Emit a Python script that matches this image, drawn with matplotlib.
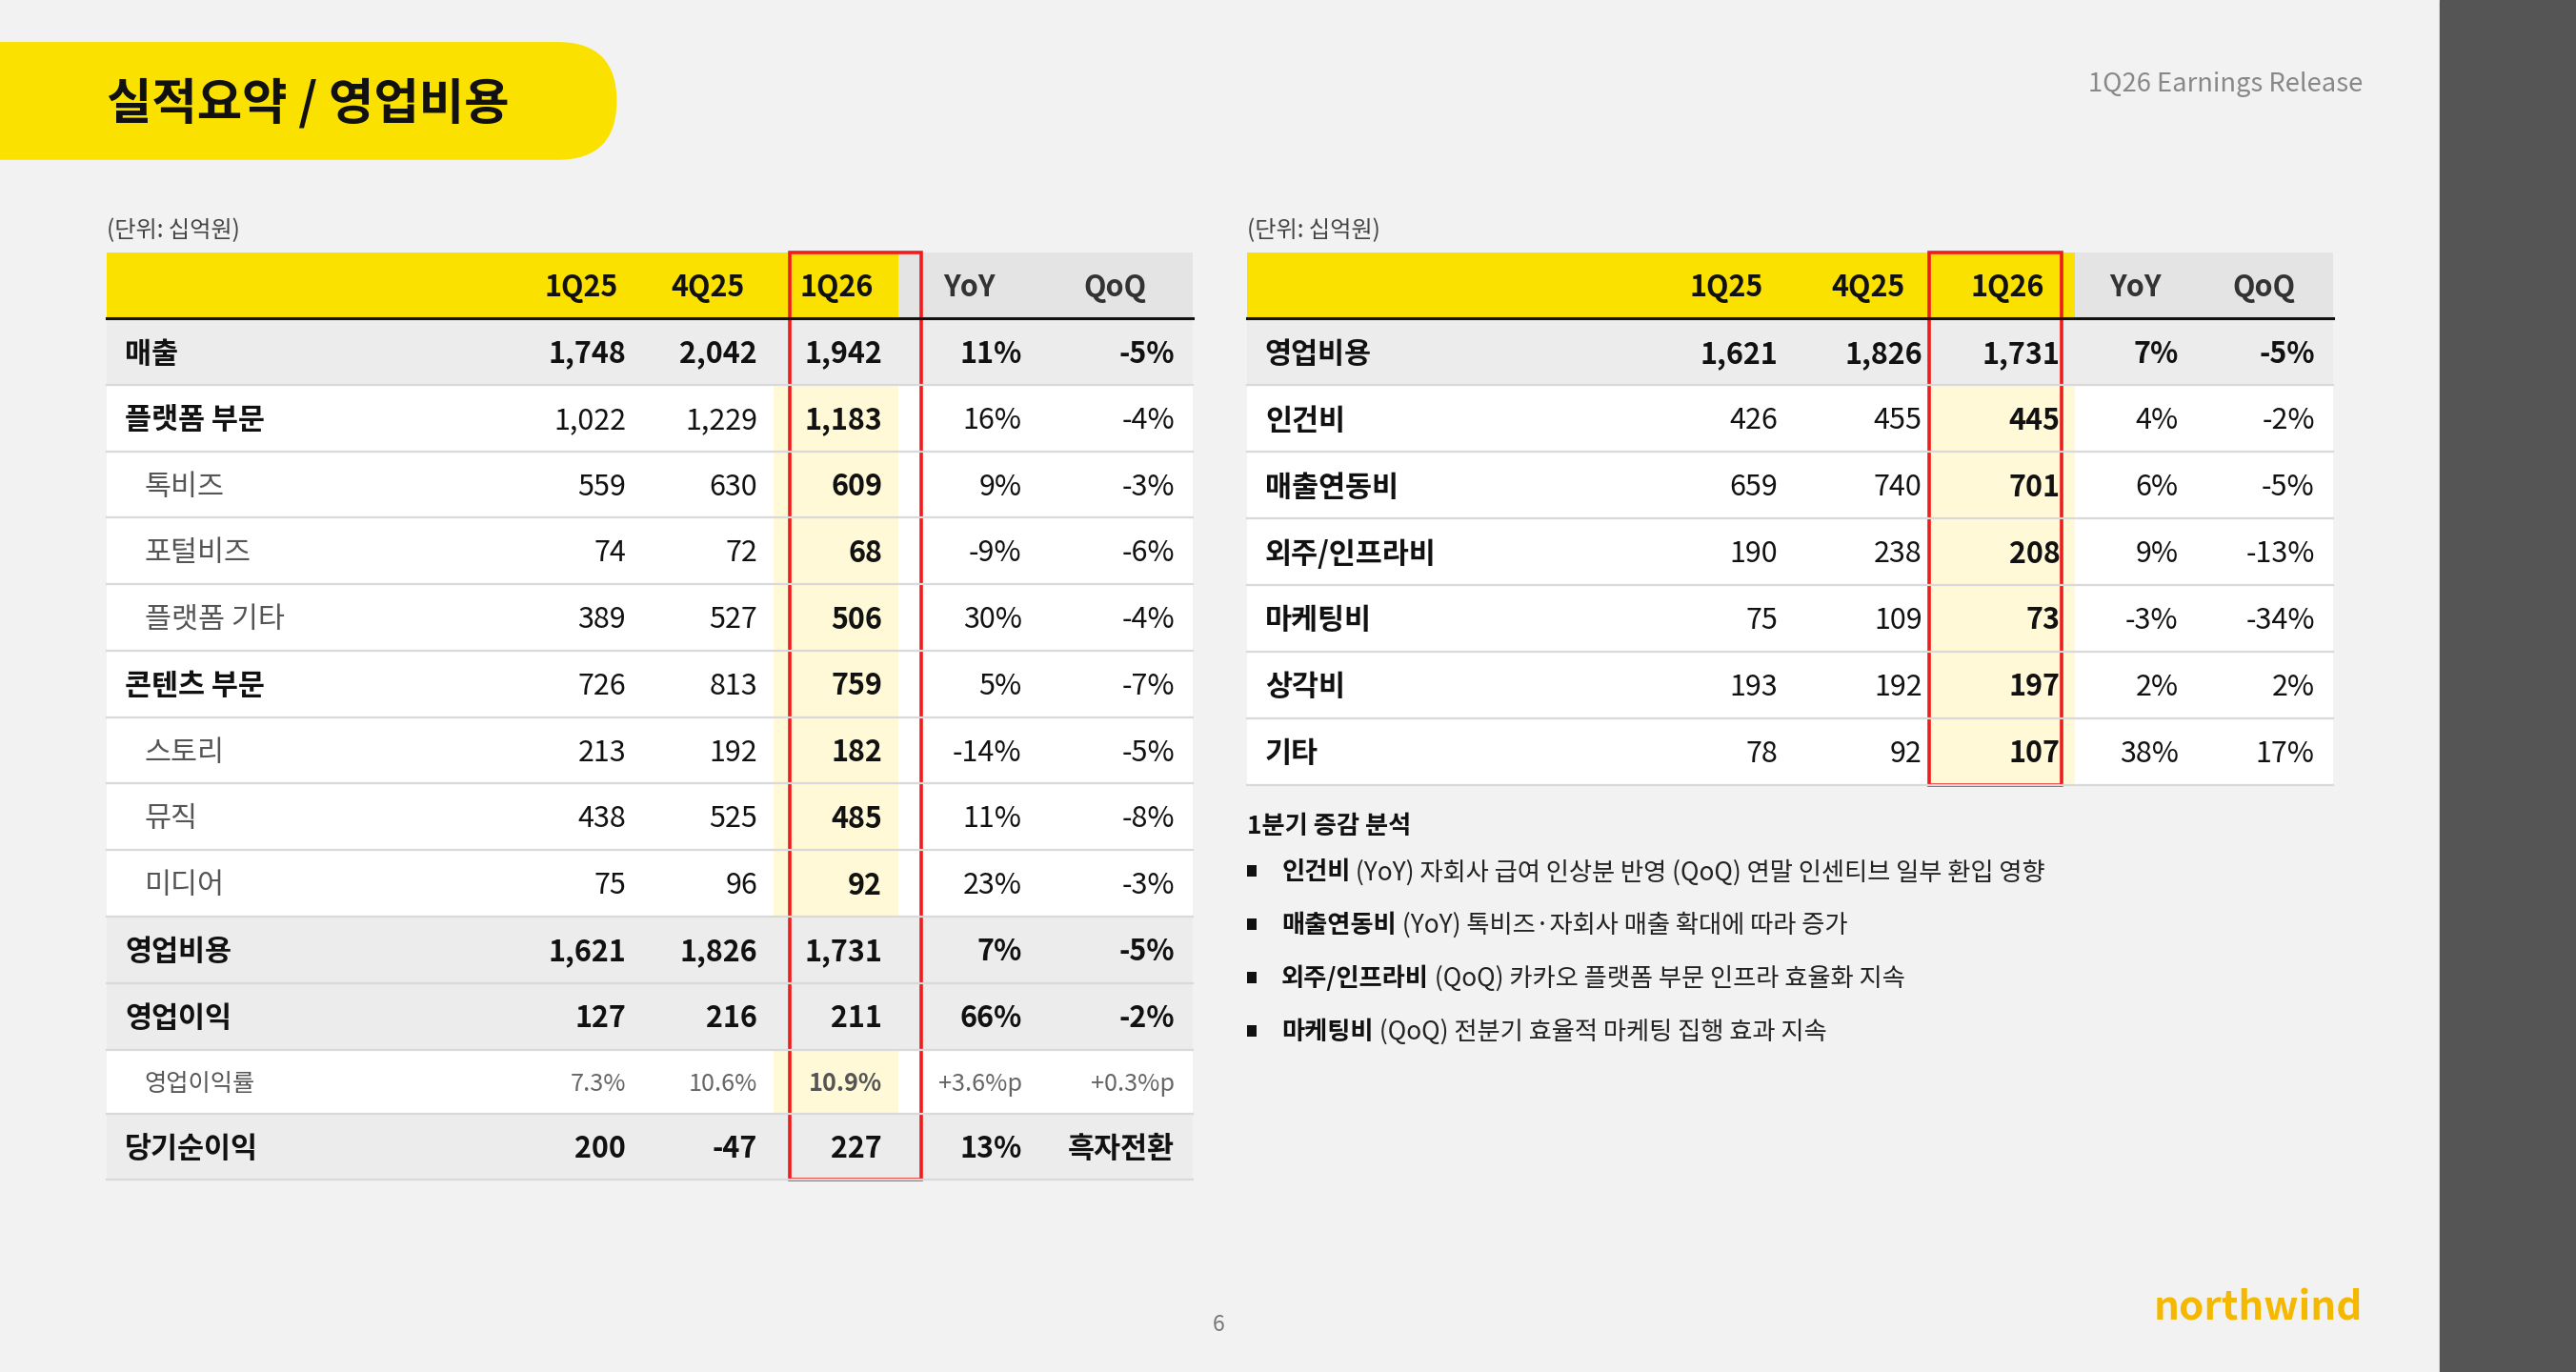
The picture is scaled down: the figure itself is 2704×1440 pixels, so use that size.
import matplotlib.pyplot as plt
from matplotlib.patches import Rectangle, FancyBboxPatch

plt.rcParams['font.family'] = ['Noto Sans CJK KR', 'DejaVu Sans']

# ---- data ----
cols = ["1Q25", "4Q25", "1Q26", "YoY", "QoQ"]

left_labels = ["매출", "플랫폼 부문", "톡비즈", "포털비즈", "플랫폼 기타", "콘텐츠 부문",
               "스토리", "뮤직", "미디어", "영업비용", "영업이익", "영업이익률", "당기순이익"]
left_1q25 = ["1,748", "1,022", "559", "74", "389", "726", "213", "438", "75", "1,621", "127", "7.3%", "200"]
left_4q25 = ["2,042", "1,229", "630", "72", "527", "813", "192", "525", "96", "1,826", "216", "10.6%", "-47"]
left_1q26 = ["1,942", "1,183", "609", "68", "506", "759", "182", "485", "92", "1,731", "211", "10.9%", "227"]
left_yoy = ["11%", "16%", "9%", "-9%", "30%", "5%", "-14%", "11%", "23%", "7%", "66%", "+3.6%p", "13%"]
left_qoq = ["-5%", "-4%", "-3%", "-6%", "-4%", "-7%", "-5%", "-8%", "-3%", "-5%", "-2%", "+0.3%p", "흑자전환"]
# row style: 'total' (gray, all bold), 'seg' (bold label), 'sub' (indented), 'ratio'
left_kind = ["total", "seg", "sub", "sub", "sub", "seg", "sub", "sub", "sub", "total", "total", "ratio", "total"]

right_labels = ["영업비용", "인건비", "매출연동비", "외주/인프라비", "마케팅비", "상각비", "기타"]
right_1q25 = ["1,621", "426", "659", "190", "75", "193", "78"]
right_4q25 = ["1,826", "455", "740", "238", "109", "192", "92"]
right_1q26 = ["1,731", "445", "701", "208", "73", "197", "107"]
right_yoy = ["7%", "4%", "6%", "9%", "-3%", "2%", "38%"]
right_qoq = ["-5%", "-2%", "-5%", "-13%", "-34%", "2%", "17%"]
right_kind = ["total", "seg", "seg", "seg", "seg", "seg", "seg"]

notes = [("인건비", " (YoY) 자회사 급여 인상분 반영 (QoQ) 연말 인센티브 일부 환입 영향"),
         ("매출연동비", " (YoY) 톡비즈·자회사 매출 확대에 따라 증가"),
         ("외주/인프라비", " (QoQ) 카카오 플랫폼 부문 인프라 효율화 지속"),
         ("마케팅비", " (QoQ) 전분기 효율적 마케팅 집행 효과 지속")]

YEL = "#fae100"
LYEL = "#fff9d8"
GRAY_ROW = "#ececec"
HDR_GRAY = "#e4e4e4"
RED = "#ee1c1c"
S = 1.2416 * 1.22  # display px -> pt
DY = 1.5  # CJK font sits a bit high with va=center

fig = plt.figure(figsize=(27.04, 14.4), dpi=100)
ax = fig.add_axes([0, 0, 1, 1])
ax.set_xlim(0, 1568)
ax.set_ylim(836, 0)
ax.axis("off")
fig.patch.set_facecolor("#f2f2f2")

ax.add_patch(Rectangle((1485, 0), 83, 836, color="#555555"))
ax.add_patch(FancyBboxPatch((-40, 26), 415, 71, boxstyle="round,pad=0,rounding_size=35.5",
                            color=YEL, mutation_aspect=1))
ax.text(65, 62 + DY, "실적요약 / 영업비용", fontsize=24.5 * S, fontweight="bold", va="center", color="#111")
ax.text(1438, 50 + DY, "1Q26 Earnings Release", fontsize=13 * S, ha="right", va="center", color="#888")
ax.text(742, 806 + DY, "6", fontsize=11 * S, ha="center", va="center", color="#777")
ax.text(1438, 796 + DY, "northwind", fontsize=20 * S, ha="right", va="center", fontweight="bold", color="#f5b800")


def draw_table(x0, x1, yel_end, col_r, col_c, hl, red, labels, values, kinds, heights):
    ax.text(x0, 139 + DY, "(단위: 십억원)", fontsize=11.5 * S, va="center", color="#444")
    ax.add_patch(Rectangle((x0, 154), yel_end - x0, 40, color=YEL, lw=0))
    ax.add_patch(Rectangle((yel_end, 154), x1 - yel_end, 40, color=HDR_GRAY, lw=0))
    for j, c in enumerate(cols):
        ax.text(col_c[j], 174 + DY, c, fontsize=14.5 * S, fontweight="bold", ha="center", va="center",
                color="#111" if j < 3 else "#333")
    y = 194
    for i, lab in enumerate(labels):
        h = heights[i]
        k = kinds[i]
        bg = GRAY_ROW if k == "total" else "white"
        ax.add_patch(Rectangle((x0, y), x1 - x0, h, color=bg, lw=0))
        if k != "total":
            ax.add_patch(Rectangle((hl[0], y), hl[1] - hl[0], h, color=LYEL, lw=0))
        ax.plot([x0, x1], [y + h, y + h], color="#d9d9d9", lw=1.6)
        yc = y + h / 2 + DY
        fs = 14.5 * S if k != "ratio" else 12 * S
        if k == "sub" or k == "ratio":
            ax.text(x0 + 23, yc, lab, fontsize=fs, va="center", color="#555")
        else:
            ax.text(x0 + 11, yc, lab, fontsize=fs, va="center", fontweight="bold", color="#111")
        for j, vals in enumerate(values):
            bold = k == "total" or j == 2
            color = "#111" if k != "ratio" else ("#555" if j == 2 else "#666")
            ax.text(col_r[j], yc, vals[i], fontsize=fs, ha="right", va="center",
                    fontweight="bold" if bold else "normal", color=color)
        y += h
    ax.plot([x0, x1], [194, 194], color="#111", lw=2.2)
    ax.add_patch(Rectangle((red[0], 154), red[1] - red[0], y - 154, fill=False, ec=RED, lw=2.6))


draw_table(65, 726, 547, [381, 461, 537, 622, 715], [354, 431, 509, 590, 679], (471, 547), (481, 561),
           left_labels, [left_1q25, left_4q25, left_1q26, left_yoy, left_qoq], left_kind,
           [40.5] * 11 + [39, 40])
draw_table(759, 1420, 1263, [1082, 1170, 1254, 1326, 1409], [1051, 1137, 1222, 1300, 1378], (1175, 1263),
           (1174, 1255), right_labels, [right_1q25, right_4q25, right_1q26, right_yoy, right_qoq], right_kind,
           [40.6] * 7)

ax.text(759, 502 + DY, "1분기 증감 분석", fontsize=12.5 * S, fontweight="bold", va="center", color="#111")
for i, (b, t) in enumerate(notes):
    yy = 530 + i * 32.5
    ax.add_patch(Rectangle((759, yy - 3), 6, 7, color="#111", lw=0))
    tb = ax.text(780, yy + DY, b, fontsize=12.5 * S, fontweight="bold", va="center", color="#111")
    fig.canvas.draw()
    bb = tb.get_window_extent().transformed(ax.transData.inverted())
    ax.text(max(bb.x0, bb.x1), yy + DY, t, fontsize=12.5 * S, va="center", color="#222")

fig.savefig("out.png", dpi=100, facecolor=fig.get_facecolor())
